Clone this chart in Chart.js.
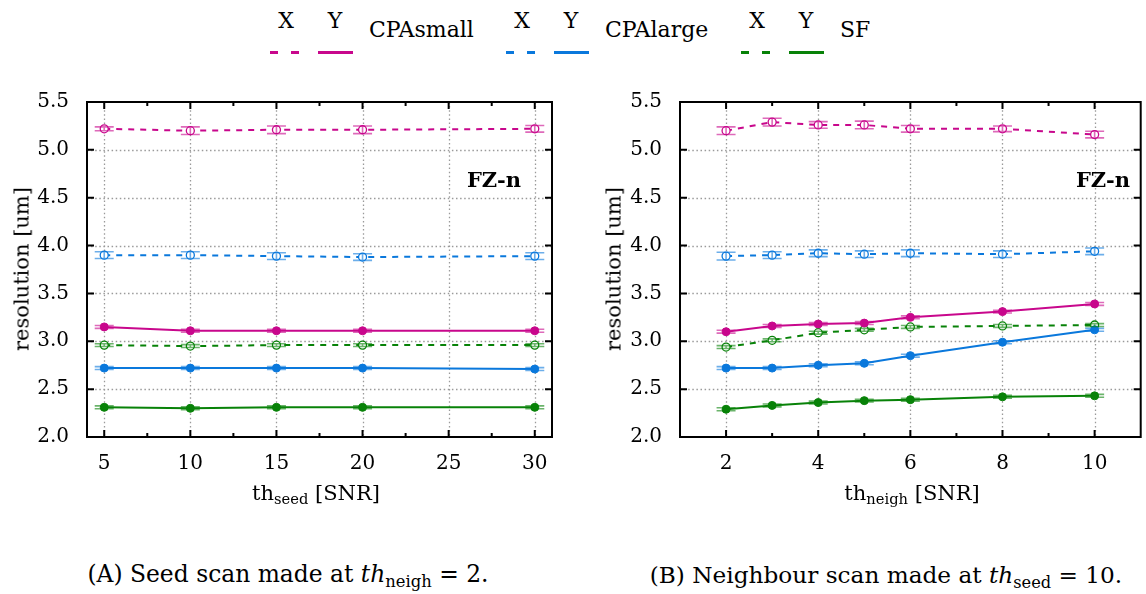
<!DOCTYPE html>
<html><head><meta charset="utf-8">
<script src="https://cdn.jsdelivr.net/npm/chart.js@4.4.0/dist/chart.umd.min.js"></script>
<style>
body{margin:0;width:1146px;height:594px;background:#fff;position:relative;overflow:hidden;font-family:"DejaVu Serif",serif;color:#000}
.t{position:absolute;white-space:nowrap;transform:translate(-50%,-50%);line-height:1}
.sub{font-size:70%;position:relative;top:0.3em}
canvas{position:absolute}
.ls{position:absolute;height:3px}
</style></head><body>
<canvas id="cA" style="left:0;top:80px" width="570" height="440"></canvas>
<canvas id="cB" style="left:590px;top:80px" width="556" height="440"></canvas>
<div id="legend"></div>
<div class="t" style="left:22px;top:269px;font-size:21px;transform:translate(-50%,-50%) rotate(-90deg)">resolution [um]</div>
<div class="t" style="left:614px;top:269px;font-size:21px;transform:translate(-50%,-50%) rotate(-90deg)">resolution [um]</div>
<div class="t" style="left:316px;top:493px;font-size:21px">th<span class="sub">seed</span> [SNR]</div>
<div class="t" style="left:912px;top:493px;font-size:21px">th<span class="sub">neigh</span> [SNR]</div>
<div class="t" style="left:494px;top:179px;font-size:21px;font-weight:bold">FZ-n</div>
<div class="t" style="left:1103px;top:179px;font-size:21px;font-weight:bold">FZ-n</div>
<div class="t" style="left:288px;top:575px;font-size:23.4px">(A) Seed scan made at <i>th</i><span class="sub">neigh</span> = 2.</div>
<div class="t" style="left:886px;top:575px;font-size:23.2px">(B) Neighbour scan made at <i>th</i><span class="sub">seed</span> = 10.</div>
<script>
// ---- data ----
const seriesNames = ['CPAsmall','CPAlarge','SF'];
const colors = ['#c8078c','#0a78dc','#088208'];
const yTickValues = [2.0,2.5,3.0,3.5,4.0,4.5,5.0,5.5];

const leftX = [5,10,15,20,30];
const leftXTicks = [5,10,15,20,25,30];
const leftXMinor = [7.5,12.5,17.5,22.5,27.5];
const leftCPAsmallX = [5.22,5.20,5.21,5.21,5.22];
const leftCPAsmallY = [3.15,3.11,3.11,3.11,3.11];
const leftCPAlargeX = [3.90,3.90,3.89,3.88,3.89];
const leftCPAlargeY = [2.72,2.72,2.72,2.72,2.71];
const leftSFX = [2.96,2.95,2.96,2.96,2.96];
const leftSFY = [2.31,2.30,2.31,2.31,2.31];
const leftErrCPAsmallX = [0.02,0.04,0.04,0.04,0.035];
const leftErrCPAlargeX = [0.035,0.035,0.035,0.035,0.035];
const leftErrSmall = [0.015,0.015,0.015,0.015,0.015];

const rightX = [2,3,4,5,6,8,10];
const rightXTicks = [2,4,6,8,10];
const rightXMinor = [3,5,7,9];
const rightCPAsmallX = [5.20,5.29,5.26,5.26,5.22,5.22,5.16];
const rightCPAsmallY = [3.10,3.16,3.18,3.19,3.25,3.31,3.39];
const rightCPAlargeX = [3.89,3.90,3.92,3.91,3.92,3.91,3.94];
const rightCPAlargeY = [2.72,2.72,2.75,2.77,2.85,2.99,3.12];
const rightSFX = [2.94,3.01,3.09,3.12,3.15,3.16,3.17];
const rightSFY = [2.29,2.33,2.36,2.38,2.39,2.42,2.43];
const rightErrCPAsmallX = [0.04,0.04,0.035,0.04,0.035,0.03,0.035];
const rightErrCPAlargeX = [0.04,0.035,0.035,0.035,0.035,0.035,0.035];
const rightErrSmall = [0.015,0.015,0.015,0.015,0.015,0.015,0.015];

// ---- legend (HTML) ----
(function(){
  const L = document.getElementById('legend');
  const starts = [270,506,741];
  let h = '';
  seriesNames.forEach((n,i)=>{
    const g = starts[i], c = colors[i];
    h += `<div class="t" style="left:${g+16}px;top:21px;font-size:22px">X</div>`;
    h += `<div class="t" style="left:${g+65}px;top:21px;font-size:22px">Y</div>`;
    h += `<div class="ls" style="left:${g}px;top:51px;width:8px;background:${c}"></div>`;
    h += `<div class="ls" style="left:${g+21}px;top:51px;width:8px;background:${c}"></div>`;
    h += `<div class="ls" style="left:${g+48}px;top:51px;width:35px;background:${c}"></div>`;
    h += `<div class="t" style="left:${g+99}px;top:30px;font-size:22px;transform:translate(0,-50%)">${n}</div>`;
  });
  L.innerHTML = h;
})();

function rgba(hex,a){const n=parseInt(hex.slice(1),16);return `rgba(${n>>16},${(n>>8)&255},${n&255},${a})`;}

const framePlugin = {
  id:'frame',
  beforeDatasetsDraw(chart,args,o){
    const {ctx,chartArea:a,scales:{x,y}} = chart;
    ctx.save();
    ctx.strokeStyle='#9a9a9a'; ctx.lineWidth=1.3; ctx.setLineDash([1.5,2.6]);
    o.xMajor.forEach(v=>{const p=Math.round(x.getPixelForValue(v))+0.5;ctx.beginPath();ctx.moveTo(p,a.top);ctx.lineTo(p,a.bottom);ctx.stroke();});
    o.yMajor.forEach(v=>{if(v<=y.min||v>=y.max)return;const p=Math.round(y.getPixelForValue(v))+0.5;ctx.beginPath();ctx.moveTo(a.left,p);ctx.lineTo(a.right,p);ctx.stroke();});
    ctx.restore();
  },
  afterDatasetsDraw(chart,args,o){
    const {ctx,chartArea:a,scales:{x,y}} = chart;
    ctx.save();
    // error bars
    chart.data.datasets.forEach(ds=>{
      ctx.strokeStyle=rgba(ds.borderColor,0.6); ctx.lineWidth=1.6; ctx.setLineDash([]);
      ds.data.forEach((pt,i)=>{
        const e=ds.err[i], px=x.getPixelForValue(pt.x);
        const y1=y.getPixelForValue(pt.y+e), y2=y.getPixelForValue(pt.y-e);
        ctx.beginPath();ctx.moveTo(px,y1);ctx.lineTo(px,y2);
        ctx.moveTo(px-9.5,y1);ctx.lineTo(px+9.5,y1);
        ctx.moveTo(px-9.5,y2);ctx.lineTo(px+9.5,y2);ctx.stroke();
      });
    });
    // ticks
    ctx.strokeStyle='#000'; ctx.lineWidth=2; ctx.setLineDash([]);
    const tk=(list,len)=>list.forEach(v=>{const p=x.getPixelForValue(v);ctx.beginPath();ctx.moveTo(p,a.bottom);ctx.lineTo(p,a.bottom-len);ctx.moveTo(p,a.top);ctx.lineTo(p,a.top+len);ctx.stroke();});
    tk(o.xMajor,7); tk(o.xMinor,4);
    o.yMajor.forEach(v=>{const p=y.getPixelForValue(v);ctx.beginPath();ctx.moveTo(a.left,p);ctx.lineTo(a.left+7,p);ctx.moveTo(a.right,p);ctx.lineTo(a.right-7,p);ctx.stroke();});
    ctx.strokeRect(a.left,a.top,a.right-a.left,a.bottom-a.top);
    ctx.restore();
  }
};

function makeDatasets(xs, groups){
  const ds=[];
  groups.forEach((g,i)=>{
    ds.push({label:seriesNames[i]+' X',data:xs.map((x,k)=>({x,y:g.X[k]})),err:g.eX,borderColor:colors[i],backgroundColor:'rgba(0,0,0,0)',pointBackgroundColor:'#fff',pointBorderColor:colors[i],borderWidth:2,borderDash:[6,6],pointRadius:4,pointBorderWidth:1.3,tension:0});
    ds.push({label:seriesNames[i]+' Y',data:xs.map((x,k)=>({x,y:g.Y[k]})),err:g.eY,borderColor:colors[i],backgroundColor:colors[i],pointBackgroundColor:colors[i],pointBorderColor:colors[i],borderWidth:2,pointRadius:4,pointBorderWidth:1,tension:0});
  });
  return ds;
}

function makeChart(id, xs, groups, xmin, xmax, xMajor, xMinor, yWidth, padRight){
  new Chart(document.getElementById(id),{
    type:'line',
    data:{datasets:makeDatasets(xs,groups)},
    plugins:[framePlugin],
    options:{
      responsive:false,animation:false,
      layout:{padding:{top:21,right:padRight,left:0,bottom:0}},
      plugins:{legend:{display:false},tooltip:{enabled:false},
        frame:{xMajor,xMinor,yMajor:yTickValues}},
      scales:{
        x:{type:'linear',min:xmin,max:xmax,
          afterBuildTicks:s=>{s.ticks=xMajor.map(v=>({value:v}));},
          afterFit:s=>{s.height=83;},
          grid:{display:false},border:{display:false},
          ticks:{color:'#000',font:{family:'DejaVu Serif',size:20},padding:7,maxRotation:0,autoSkip:false,callback:v=>String(v)}},
        y:{type:'linear',min:2,max:5.5,
          afterBuildTicks:s=>{s.ticks=yTickValues.map(v=>({value:v}));},
          afterFit:s=>{s.width=yWidth;},
          grid:{display:false},border:{display:false},
          ticks:{color:'#000',font:{family:'DejaVu Serif',size:20},padding:10,autoSkip:false,callback:v=>v.toFixed(1)}}
      }
    }
  });
}

makeChart('cA', leftX, [
  {X:leftCPAsmallX,Y:leftCPAsmallY,eX:leftErrCPAsmallX,eY:leftErrSmall},
  {X:leftCPAlargeX,Y:leftCPAlargeY,eX:leftErrCPAlargeX,eY:leftErrSmall},
  {X:leftSFX,Y:leftSFY,eX:leftErrSmall,eY:leftErrSmall}
], 4, 31, leftXTicks, leftXMinor, 87, 18);

makeChart('cB', rightX, [
  {X:rightCPAsmallX,Y:rightCPAsmallY,eX:rightErrCPAsmallX,eY:rightErrSmall},
  {X:rightCPAlargeX,Y:rightCPAlargeY,eX:rightErrCPAlargeX,eY:rightErrSmall},
  {X:rightSFX,Y:rightSFY,eX:rightErrSmall,eY:rightErrSmall}
], 1, 11, rightXTicks, rightXMinor, 90, 4);
</script>
</body></html>
